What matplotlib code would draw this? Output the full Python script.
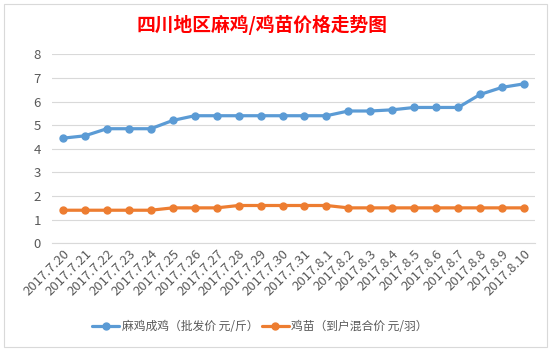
import matplotlib
matplotlib.use("Agg")
import matplotlib.pyplot as plt
from matplotlib.patches import Rectangle

plt.rcParams['font.family'] = ['Noto Sans CJK SC', 'DejaVu Sans']

dates = ["2017.7.20", "2017.7.21", "2017.7.22", "2017.7.23", "2017.7.24", "2017.7.25",
         "2017.7.26", "2017.7.27", "2017.7.28", "2017.7.29", "2017.7.30", "2017.7.31",
         "2017.8.1", "2017.8.2", "2017.8.3", "2017.8.4", "2017.8.5", "2017.8.6",
         "2017.8.7", "2017.8.8", "2017.8.9", "2017.8.10"]
adult_chicken = [4.45, 4.55, 4.85, 4.85, 4.85, 5.2, 5.4, 5.4, 5.4, 5.4, 5.4, 5.4,
                 5.4, 5.6, 5.6, 5.65, 5.75, 5.75, 5.75, 6.3, 6.6, 6.75]
chick = [1.4, 1.4, 1.4, 1.4, 1.4, 1.5, 1.5, 1.5, 1.6, 1.6, 1.6, 1.6,
         1.6, 1.5, 1.5, 1.5, 1.5, 1.5, 1.5, 1.5, 1.5, 1.5]
series_names = ["麻鸡成鸡（批发价 元/斤）", "鸡苗（到户混合价 元/羽）"]
title = "四川地区麻鸡/鸡苗价格走势图"

fig = plt.figure(figsize=(5.52, 3.51), dpi=100)
fig.patch.set_facecolor("white")

# chart area border
fig.patches.append(Rectangle((4/552, 4/351), 543/552, 343/351, transform=fig.transFigure,
                             fill=False, edgecolor="#D9D9D9", linewidth=0.8))

ax = fig.add_axes([52/552, 1-243.3/351, (535-52)/552, (243.3-54.3)/351])
x = list(range(len(dates)))
ax.plot(x, adult_chicken, color="#5B9BD5", linewidth=2.3, marker="o", markersize=5,
        label=series_names[0], solid_capstyle="round")
ax.plot(x, chick, color="#ED7D31", linewidth=2.3, marker="o", markersize=5,
        label=series_names[1], solid_capstyle="round")

ax.set_xlim(-0.5, len(dates)-0.5)
ax.set_ylim(0, 8)
ax.set_yticks(range(0, 9))
ax.yaxis.grid(True, color="#D9D9D9", linewidth=0.8)
ax.set_axisbelow(True)
for s in ["top", "right", "left"]:
    ax.spines[s].set_visible(False)
ax.spines["bottom"].set_color("#D9D9D9")
ax.spines["bottom"].set_linewidth(0.8)
ax.tick_params(axis="y", length=0, pad=8, labelsize=9.5, labelcolor="#595959")
ax.tick_params(axis="x", length=0, pad=3, labelsize=9.5, labelcolor="#595959")
ax.set_xticks(x)
ax.set_xticklabels(dates, rotation=45, ha="right", rotation_mode="anchor")

fig.text(262/552, 1-25/351, title, color="red", fontsize=13.5, fontweight="bold",
         ha="center", va="center")

leg = fig.legend(loc="center", bbox_to_anchor=(260/552, 1-327/351), ncol=2, frameon=False,
                 fontsize=8.5, handlelength=2.3, handletextpad=0.2, columnspacing=0.3,
                 labelcolor="#595959")

fig.savefig("out.png", dpi=100, facecolor="white")
